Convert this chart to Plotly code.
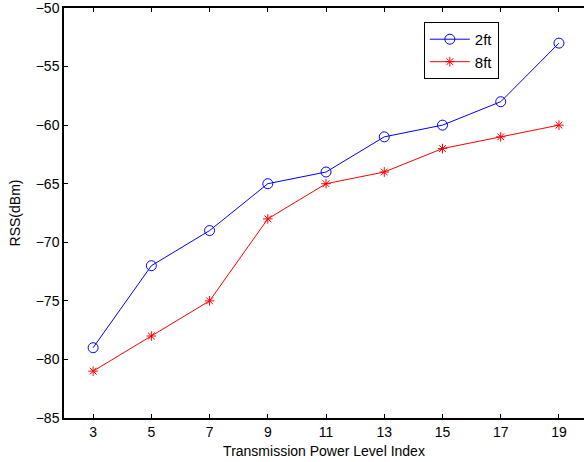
import plotly.graph_objects as go

power_index = [3, 5, 7, 9, 11, 13, 15, 17, 19]
rss_2ft = [-79, -72, -69, -65, -64, -61, -60, -58, -53]
rss_8ft = [-81, -78, -75, -68, -65, -64, -62, -61, -60]

fig = go.Figure()
fig.add_trace(go.Scatter(
    x=power_index, y=rss_2ft, name="2ft", mode="lines+markers",
    line=dict(color="#0000ff", width=1),
    marker=dict(symbol="circle-open", size=10, color="#0000ff", line=dict(width=1)),
    cliponaxis=False,
))
fig.add_trace(go.Scatter(
    x=power_index, y=rss_8ft, name="8ft", mode="lines+markers",
    line=dict(color="#ff0000", width=1),
    marker=dict(symbol="asterisk-open", size=8, color="#ff0000", line=dict(width=1, color="#ff0000")),
    cliponaxis=False,
))

font = dict(family="Liberation Sans, Arial, sans-serif", size=14, color="black")
fig.update_layout(
    width=584, height=462,
    margin=dict(l=64, r=0, t=8, b=44),
    paper_bgcolor="white", plot_bgcolor="white",
    font=font,
    showlegend=True,
    legend=dict(
        x=0.692, y=0.966, xanchor="left", yanchor="top",
        bordercolor="black", borderwidth=1, bgcolor="white",
        font=dict(family="Liberation Sans, Arial, sans-serif", size=15),
        tracegroupgap=0, itemwidth=40,
    ),
    xaxis=dict(
        range=[2, 19.86], tickvals=power_index, ticks="inside", ticklen=4,
        tickcolor="black", tickwidth=1, ticklabeloverflow="allow",
        showline=True, linecolor="black", linewidth=1.5, mirror="ticks",
        showgrid=False, zeroline=False, automargin=False,
        title=dict(text="Transmission Power Level Index", standoff=8, font=font),
    ),
    yaxis=dict(
        range=[-85, -50], dtick=5, ticks="inside", ticklen=4,
        tickcolor="black", tickwidth=1, ticklabeloverflow="allow",
        showline=True, linecolor="black", linewidth=1.5, mirror=False,
        showgrid=False, zeroline=False, automargin=False,
        title=dict(text="RSS(dBm)", standoff=12, font=font),
    ),
)
fig.write_html("out.html", post_script="document.body.style.margin='0px';",
               config={"displayModeBar": False})
